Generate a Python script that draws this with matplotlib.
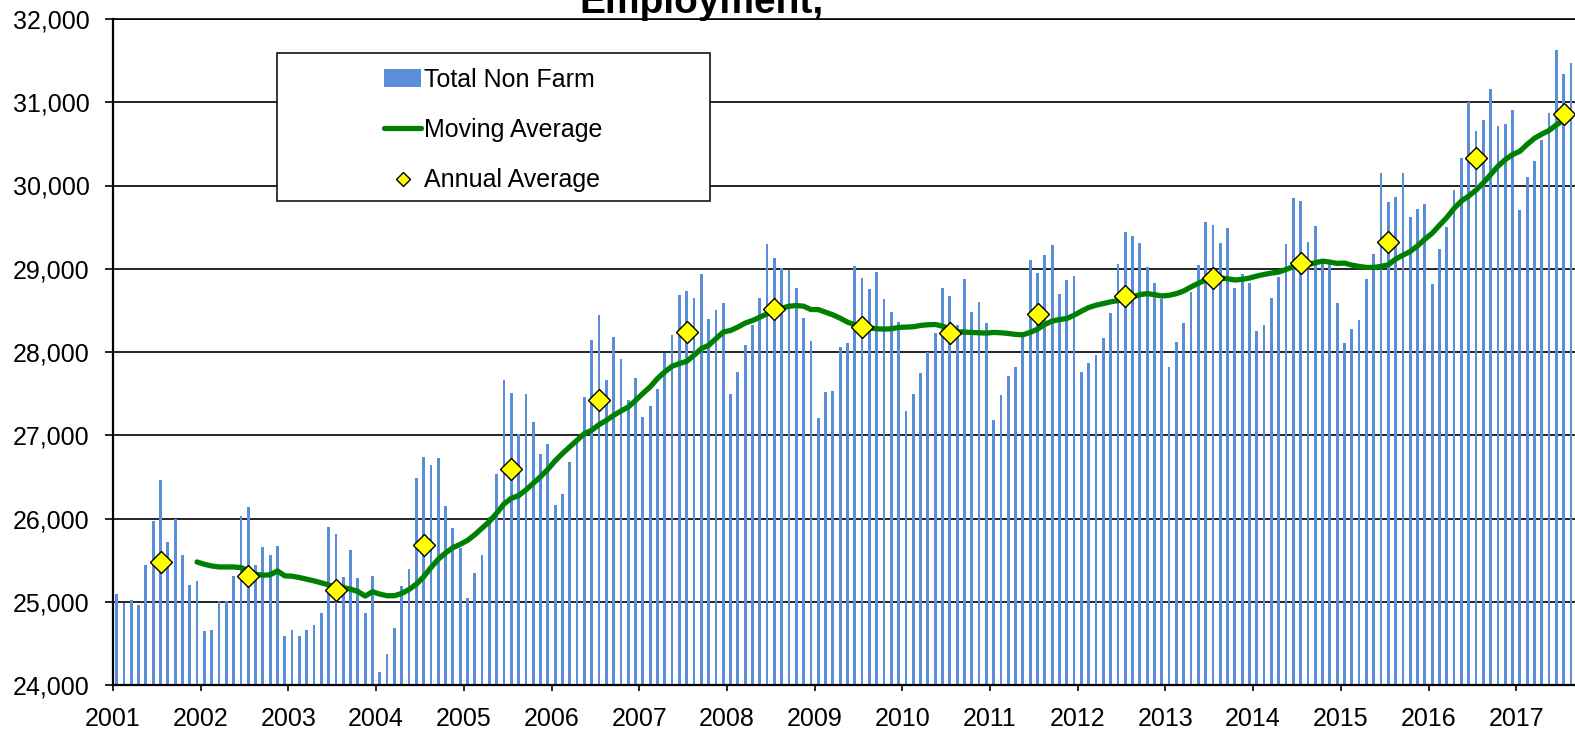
import numpy as np
import matplotlib
matplotlib.use('Agg')
import matplotlib.pyplot as plt
from matplotlib.patches import Rectangle
from matplotlib.ticker import StrMethodFormatter

plt.rcParams['font.family'] = ['Liberation Sans', 'DejaVu Sans']

# monthly total non farm employment, Jan 2001 - Aug 2017
total_non_farm = [
    25096, 24988, 25016, 24960, 25442, 25968, 26462, 25721, 25996, 25566, 25203, 25251,  # 2001
    24649, 24665, 25012, 25012, 25307, 26032, 26135, 25446, 25653, 25558, 25669, 24594,  # 2002
    24665, 24590, 24665, 24721, 24869, 25892, 25817, 25300, 25625, 25291, 24865, 25315,  # 2003
    24151, 24375, 24689, 25195, 25394, 26486, 26744, 26644, 26728, 26150, 25888, 25649,  # 2004
    25048, 25347, 25566, 26024, 26534, 27661, 27506, 27020, 27490, 27155, 26769, 26892,  # 2005
    26167, 26291, 26673, 26930, 27454, 28139, 28450, 27661, 28183, 27916, 27426, 27693,  # 2006
    27223, 27347, 27554, 27992, 28207, 28685, 28733, 28645, 28932, 28402, 28510, 28586,  # 2007
    27490, 27765, 28088, 28319, 28653, 29303, 29131, 29012, 28984, 28765, 28414, 28135,  # 2008
    27211, 27518, 27530, 28060, 28104, 29036, 28892, 28761, 28964, 28641, 28478, 28363,  # 2009
    27291, 27494, 27749, 28000, 28227, 28765, 28677, 28327, 28873, 28478, 28602, 28347,  # 2010
    27183, 27478, 27709, 27825, 28183, 29104, 28948, 29163, 29287, 28697, 28865, 28912,  # 2011
    27757, 27865, 27968, 28171, 28474, 29060, 29438, 29394, 29311, 29020, 28833, 28641,  # 2012
    27817, 28120, 28343, 28725, 29040, 29558, 29526, 29311, 29494, 28769, 28940, 28825,  # 2013
    28251, 28323, 28653, 28904, 29295, 29845, 29809, 29323, 29514, 29108, 29108, 28586,  # 2014
    28112, 28271, 28382, 28873, 29175, 30155, 29797, 29865, 30151, 29622, 29721, 29773,  # 2015
    28815, 29241, 29500, 29940, 30330, 31000, 30655, 30790, 31160, 30720, 30740, 30907,  # 2016
    29706, 30106, 30294, 30550, 30872, 31622, 31339, 31467,                              # 2017
]

# 12 month moving average, Dec 2001 - Aug 2017
moving_average = [
    25478,
    25450, 25430, 25418, 25418, 25418, 25410, 25378, 25331, 25319, 25323, 25371, 25311,  # 2002
    25307, 25291, 25271, 25251, 25227, 25203, 25163, 25171, 25151, 25124, 25068, 25120,  # 2003
    25092, 25072, 25072, 25100, 25147, 25211, 25299, 25410, 25510, 25586, 25649, 25689,  # 2004
    25737, 25805, 25884, 25964, 26064, 26175, 26243, 26275, 26343, 26422, 26502, 26590,  # 2005
    26693, 26781, 26861, 26940, 27020, 27060, 27127, 27179, 27239, 27291, 27339, 27418,  # 2006
    27502, 27582, 27681, 27761, 27829, 27861, 27888, 27960, 28040, 28080, 28159, 28239,  # 2007
    28259, 28299, 28347, 28378, 28418, 28458, 28510, 28526, 28550, 28558, 28550, 28510,  # 2008
    28510, 28478, 28446, 28406, 28359, 28327, 28303, 28287, 28279, 28275, 28279, 28295,  # 2009
    28299, 28303, 28319, 28327, 28331, 28311, 28279, 28243, 28239, 28235, 28231, 28227,  # 2010
    28235, 28231, 28223, 28211, 28207, 28235, 28275, 28331, 28371, 28390, 28402, 28442,  # 2011
    28490, 28534, 28562, 28582, 28602, 28618, 28622, 28661, 28689, 28701, 28689, 28673,  # 2012
    28681, 28701, 28733, 28781, 28825, 28865, 28884, 28888, 28880, 28865, 28873, 28888,  # 2013
    28912, 28932, 28948, 28960, 28992, 29024, 29052, 29048, 29072, 29092, 29080, 29064,  # 2014
    29068, 29044, 29028, 29016, 29016, 29028, 29048, 29116, 29163, 29207, 29275, 29355,  # 2015
    29426, 29522, 29614, 29725, 29813, 29873, 29944, 30032, 30131, 30231, 30311, 30371,  # 2016
    30411, 30494, 30567, 30617, 30661, 30728, 30783, 30828,                              # 2017
]

years = list(range(2001, 2018))
annual_average = [25478, 25311, 25139, 25685, 26590, 27418, 28239, 28518, 28299,
                  28231, 28454, 28673, 28884, 29064, 29327, 30327, 30860]

# month centres in fractional years
x_months = 2001 + (np.arange(len(total_non_farm)) + 0.5) / 12
x_ma = x_months[11:11 + len(moving_average)]
x_annual = np.array(years) + 6.5 / 12

fig = plt.figure(figsize=(15.75, 7.3), dpi=100)
ax = fig.add_axes([113 / 1575, 45 / 730, 1462 / 1575, 666 / 730])

bars = ax.bar(x_months, total_non_farm, width=0.38 / 12, color='#5A8ED8',
              label='Total Non Farm', zorder=2)
ma_line, = ax.plot(x_ma, moving_average, color='#008000', lw=3.8,
                   solid_capstyle='round', label='Moving Average', zorder=3)
avg_pts, = ax.plot(x_annual, annual_average, ls='none', marker='D', ms=11,
                   mfc='#FFFF00', mec='black', mew=1.0,
                   label='Annual Average', zorder=4)

ax.set_xlim(2001, 2001 + 1462 / 87.7)
ax.set_ylim(24000, 32000)
ax.set_yticks(np.arange(24000, 32001, 1000))
ax.yaxis.set_major_formatter(StrMethodFormatter('{x:,.0f}'))
ax.set_xticks(years)
ax.set_xticklabels([str(y) for y in years])

ax.grid(axis='y', color='black', lw=1.2)
ax.set_axisbelow(True)
ax.spines['right'].set_visible(False)
ax.spines['top'].set_linewidth(1.2)
ax.spines['left'].set_linewidth(1.6)
ax.spines['bottom'].set_linewidth(1.6)
ax.tick_params(axis='y', length=5.8, width=1.2, pad=11, labelsize=18)
ax.tick_params(axis='x', length=4.3, width=1.2, pad=11.5, labelsize=18)

# legend box
fig.patches.append(Rectangle((277 / 1575, 1 - 201 / 730), 433 / 1575, 148 / 730,
                             transform=fig.transFigure, facecolor='white',
                             edgecolor='black', lw=1.1, zorder=1))
fig.legend(handles=[bars, ma_line, avg_pts], loc='center',
           bbox_to_anchor=(493 / 1575, 1 - 130 / 730), frameon=False,
           fontsize=18, handlelength=1.5, handletextpad=0.1,
           labelspacing=1.05, markerscale=0.65)

# title, clipped at the top of the image
fig.text(579 / 1575, 1 - 13 / 730, 'Employment,', fontsize=28,
         fontweight='bold', ha='left', va='baseline')

fig.savefig('out.png', dpi=100)
